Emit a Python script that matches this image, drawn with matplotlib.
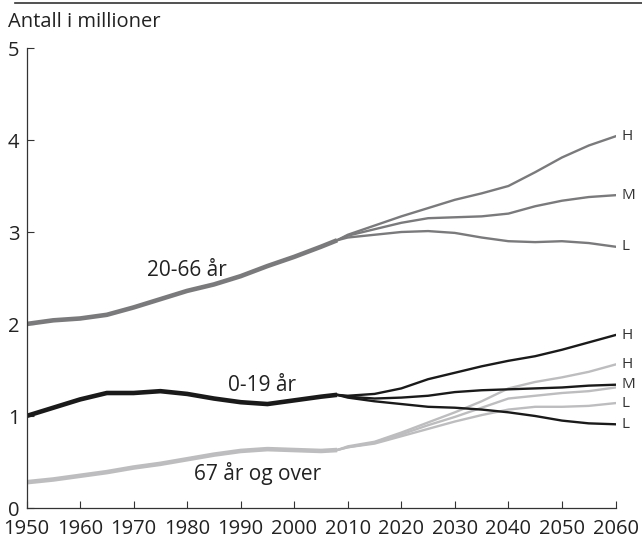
import matplotlib.pyplot as plt

plt.rcParams['font.family'] = ['Open Sans', 'DejaVu Sans']

# historical, 1950-2008
hist_years = [1950, 1955, 1960, 1965, 1970, 1975, 1980, 1985, 1990, 1995, 2000, 2005, 2008]
age_20_66 = [2.00, 2.04, 2.06, 2.10, 2.18, 2.27, 2.36, 2.43, 2.52, 2.63, 2.73, 2.84, 2.91]
age_0_19 = [1.00, 1.09, 1.18, 1.25, 1.25, 1.27, 1.24, 1.19, 1.15, 1.13, 1.17, 1.21, 1.23]
age_67 = [0.28, 0.31, 0.35, 0.39, 0.44, 0.48, 0.53, 0.58, 0.62, 0.64, 0.63, 0.62, 0.63]

# projections (H/M/L), 2008-2060
proj_years = [2008, 2010, 2015, 2020, 2025, 2030, 2035, 2040, 2045, 2050, 2055, 2060]
p20_H = [2.91, 2.97, 3.07, 3.17, 3.26, 3.35, 3.42, 3.50, 3.65, 3.81, 3.94, 4.04]
p20_M = [2.91, 2.96, 3.03, 3.10, 3.15, 3.16, 3.17, 3.20, 3.28, 3.34, 3.38, 3.40]
p20_L = [2.91, 2.94, 2.97, 3.00, 3.01, 2.99, 2.94, 2.90, 2.89, 2.90, 2.88, 2.84]
p0_H = [1.23, 1.22, 1.24, 1.30, 1.40, 1.47, 1.54, 1.60, 1.65, 1.72, 1.80, 1.88]
p0_M = [1.23, 1.21, 1.19, 1.20, 1.22, 1.26, 1.28, 1.29, 1.30, 1.31, 1.33, 1.34]
p0_L = [1.23, 1.20, 1.16, 1.13, 1.10, 1.09, 1.07, 1.04, 1.00, 0.95, 0.92, 0.91]
p67_H = [0.63, 0.67, 0.72, 0.82, 0.93, 1.04, 1.16, 1.30, 1.37, 1.42, 1.48, 1.56]
p67_M = [0.63, 0.66, 0.71, 0.80, 0.90, 0.99, 1.09, 1.19, 1.22, 1.25, 1.27, 1.31]
p67_L = [0.63, 0.66, 0.70, 0.78, 0.86, 0.94, 1.01, 1.07, 1.10, 1.10, 1.11, 1.14]

c_mid = '#7a7a7c'
c_dark = '#1a1a1a'
c_light = '#bdbdbf'

fig = plt.figure(figsize=(6.42, 5.41), dpi=100)
ax = fig.add_axes([26.5 / 642, 33 / 541, 589 / 642, 460 / 541])

for y, c in [(age_20_66, c_mid), (age_0_19, c_dark), (age_67, c_light)]:
    ax.plot(hist_years, y, color=c, lw=3.3, solid_capstyle='butt')
for series, c in [((p20_H, p20_M, p20_L), c_mid),
                  ((p67_H, p67_M, p67_L), c_light),
                  ((p0_H, p0_M, p0_L), c_dark)]:
    for y in series:
        ax.plot(proj_years, y, color=c, lw=1.7)

fs = 14.5
ax.text(1980, 2.58, '20-66 år', fontsize=15, ha='center', va='center', color='#222222')
ax.text(1994, 1.33, '0-19 år', fontsize=15, ha='center', va='center', color='#222222')
ax.text(1993.2, 0.37, '67 år og over', fontsize=15, ha='center', va='center', color='#222222')

end_labels = [(p20_H[-1], 'H'), (p20_M[-1], 'M'), (p20_L[-1], 'L'),
              (p0_H[-1], 'H'), (p67_H[-1], 'H'), (p0_M[-1], 'M'),
              (p67_L[-1], 'L'), (p0_L[-1], 'L')]
for v, s in end_labels:
    ax.text(2061.2, v, s, fontsize=11, ha='left', va='center', color='#333333',
            clip_on=False)

ax.set_xlim(1950, 2060)
ax.set_ylim(0, 5)
ax.set_xticks(range(1950, 2061, 10))
ax.set_yticks(range(0, 6))
ax.tick_params(direction='in', length=5, width=0.8, color='#333333',
               labelsize=fs, labelcolor='#222222')
ax.tick_params(axis='x', pad=8)
ax.tick_params(axis='y', pad=5)
for side in ['top', 'right']:
    ax.spines[side].set_visible(False)
for side in ['left', 'bottom']:
    ax.spines[side].set_color('#333333')
    ax.spines[side].set_linewidth(0.9)

fig.text(8 / 642, 1 - 22 / 541, 'Antall i millioner', fontsize=14.5, ha='left',
         va='center', color='#222222')
fig.add_artist(plt.Line2D([15 / 642, 1], [1 - 3 / 541, 1 - 3 / 541],
                          color='#333333', lw=1.2))

fig.savefig('out.png', dpi=100)
